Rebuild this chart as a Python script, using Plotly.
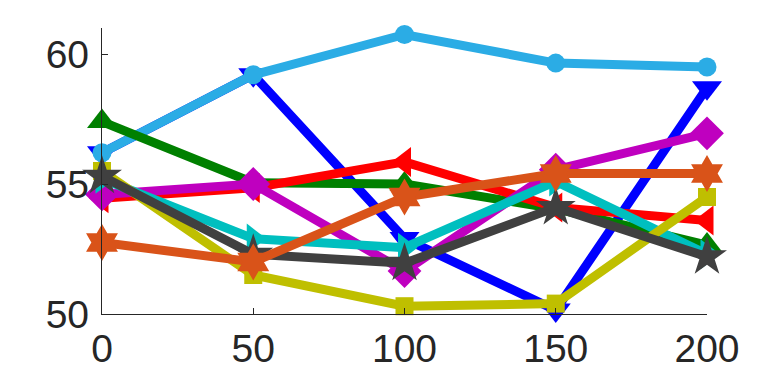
import plotly.graph_objects as go

x_vals = [0, 50, 100, 150, 200]

blue_v = [56.2, 59.2, 52.9, 50.15, 58.7]
lightblue_o = [56.2, 59.2, 60.75, 59.65, 59.5]
green_up = [57.4, 55.05, 55.0, 54.05, 52.65]
red_left = [54.45, 54.85, 55.85, 54.1, 53.6]
magenta_d = [54.6, 55.0, 51.65, 55.55, 56.95]
cyan_right = [55.2, 52.9, 52.55, 55.1, 52.3]
yellow_s = [55.5, 51.5, 50.3, 50.4, 54.5]
gray_star = [55.3, 52.3, 51.95, 54.1, 52.2]
orange_hex = [52.75, 52.0, 54.5, 55.4, 55.4]

y_ticks = [50, 55, 60]
x_ticks = [0, 50, 100, 150, 200]

series = [
    (blue_v, "#0000FF", "triangle-down", 26),
    (lightblue_o, "#2BACE5", "circle", 19),
    (green_up, "#008000", "triangle-up", 26),
    (red_left, "#FF0000", "triangle-left", 26),
    (magenta_d, "#BF00BF", "diamond", 26),
    (cyan_right, "#00BFBF", "triangle-right", 26),
    (yellow_s, "#BFBF00", "square", 18),
    (gray_star, "#404040", "star", 30),
    (orange_hex, "#D95319", "hexagram", 28),
]

fig = go.Figure()
for ys, col, sym, sz in series:
    fig.add_trace(go.Scatter(
        x=x_vals, y=ys, mode="lines+markers",
        line=dict(color=col, width=9),
        marker=dict(symbol=sym, size=sz, color=col, line=dict(width=0)),
        cliponaxis=False, showlegend=False,
    ))

axis_common = dict(
    showgrid=False, zeroline=False, showline=True, linecolor="#262626",
    linewidth=1.3, ticks="inside", ticklen=6, tickcolor="#262626",
    automargin=False,
    tickfont=dict(family="Liberation Sans, Arial, sans-serif", size=39, color="#262626"),
)

# page body has an 8px margin, so the figure is sized/margined to land the
# plot area at the reference position
fig.update_layout(
    width=773, height=367,
    margin=dict(l=94, r=74, t=20, b=61),
    paper_bgcolor="white", plot_bgcolor="white",
    xaxis=dict(range=[0, 200], tickvals=x_ticks, ticktext=[str(v) for v in x_ticks], **axis_common),
    yaxis=dict(range=[50, 61], tickvals=y_ticks, ticktext=[str(v) for v in y_ticks],
               ticklabelstandoff=4, **axis_common),
)

fig.write_html("out.html")
